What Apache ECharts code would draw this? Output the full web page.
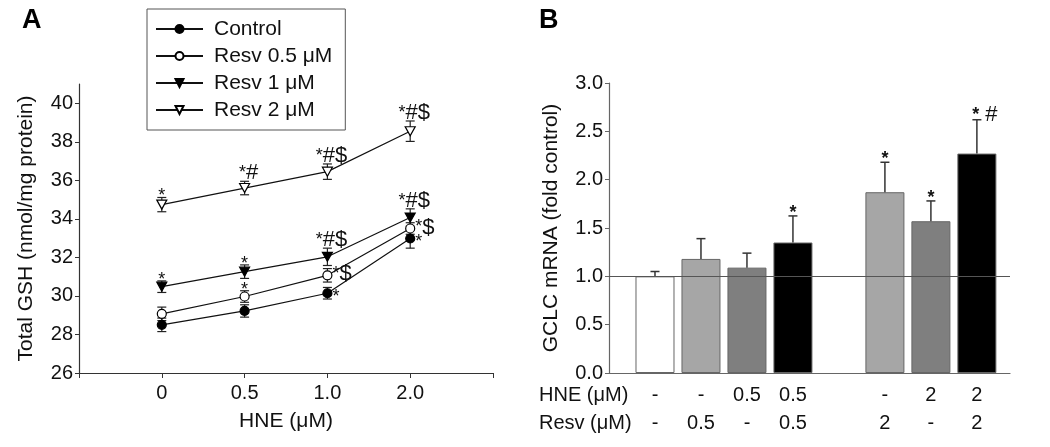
<!DOCTYPE html>
<html><head><meta charset="utf-8">
<script src="https://cdn.jsdelivr.net/npm/echarts@6/dist/echarts.min.js"></script>
<style>html,body{margin:0;padding:0;background:#fff}#c{width:1050px;height:447px}</style>
</head><body><div id="c"></div>
<script>
const FONT = '"Liberation Sans", Arial, Helvetica, sans-serif';

// ---------- Panel A data ----------
const hneTicks = ['0', '0.5', '1.0', '2.0'];
const seriesNames = ['Control', 'Resv 0.5 μM', 'Resv 1 μM', 'Resv 2 μM'];
const controlMean = [28.50, 29.22, 30.14, 32.98];
const controlErr  = [0.35, 0.32, 0.30, 0.50];
const controlSig  = ['', '', '*', '*'];
const resv05Mean  = [29.07, 29.97, 31.07, 33.50];
const resv05Err   = [0.35, 0.30, 0.35, 0.30];
const resv05Sig   = ['', '*', '*$', '*$'];
const resv1Mean   = [30.48, 31.26, 32.03, 34.07];
const resv1Err    = [0.30, 0.35, 0.45, 0.45];
const resv1Sig    = ['*', '*', '*#$', '*#$'];
const resv2Mean   = [34.74, 35.60, 36.45, 38.55];
const resv2Err    = [0.37, 0.35, 0.40, 0.53];
const resv2Sig    = ['*', '*#', '*#$', '*#$'];
const yTicksA     = [26, 28, 30, 32, 34, 36, 38, 40];

// ---------- Panel B data ----------
const barHNE  = ['-', '-', '0.5', '0.5', null, '-', '2', '2'];
const barResv = ['-', '0.5', '-', '0.5', null, '2', '-', '2'];
const barMean = [1.00, 1.18, 1.09, 1.35, null, 1.87, 1.57, 2.27];
const barErr  = [0.05, 0.21, 0.15, 0.275, null, 0.31, 0.21, 0.35];
const barSig  = ['', '', '', '*', null, '*', '*', '*#'];
const yTicksB = [0, 0.5, 1.0, 1.5, 2.0, 2.5, 3.0];

// ---------- styling / layout (not data) ----------
const sigSideA = [
  ['top', 'top', 'right', 'right'],
  ['top', 'top', 'right', 'right'],
  ['top', 'top', 'top', 'top'],
  ['top', 'top', 'top', 'top']
];
const TRI = 'path://M0,0L10,0L5,8.66Z';
const markerA = [
  { symbol: 'circle', size: 9, fill: '#000' },
  { symbol: 'circle', size: 9, fill: '#fff' },
  { symbol: TRI, size: [10, 9], fill: '#000' },
  { symbol: TRI, size: [10, 9], fill: '#fff' }
];
const groupsA = [
  { mean: controlMean, err: controlErr, sig: controlSig },
  { mean: resv05Mean, err: resv05Err, sig: resv05Sig },
  { mean: resv1Mean, err: resv1Err, sig: resv1Sig },
  { mean: resv2Mean, err: resv2Err, sig: resv2Sig }
];

function richSig(s) {
  return s.split('').map(c => c === '*' ? '{a|*}' : '{b|' + c + '}').join('');
}
const richStyles = {
  a: { fontSize: 18, fontFamily: FONT, fill: '#111', verticalAlign: 'middle' },
  b: { fontSize: 22, fontFamily: FONT, fill: '#111', verticalAlign: 'bottom' }
};

function errRendererA(gi) {
  const g = groupsA[gi];
  return function (params, api) {
    const i = params.dataIndex;
    const x = api.value(0), m = api.value(1), e = api.value(2);
    const p = api.coord([x, m]);
    const hi = api.coord([x, m + e]);
    const lo = api.coord([x, m - e]);
    const cw = 4.5;
    const st = { stroke: '#222', lineWidth: 1.2 };
    const ch = [
      { type: 'line', shape: { x1: p[0], y1: hi[1], x2: p[0], y2: lo[1] }, style: st },
      { type: 'line', shape: { x1: p[0] - cw, y1: hi[1], x2: p[0] + cw, y2: hi[1] }, style: st },
      { type: 'line', shape: { x1: p[0] - cw, y1: lo[1], x2: p[0] + cw, y2: lo[1] }, style: st }
    ];
    const s = g.sig[i];
    if (s) {
      const side = sigSideA[gi][i];
      let tx, ty, align, va;
      if (side === 'top') {
        tx = p[0] + (s.length > 1 ? 4 : 0);
        ty = hi[1] + (s.length > 1 ? 3 : 8);
        align = 'center'; va = 'bottom';
      } else {
        tx = p[0] + 5; ty = p[1] + (s.length > 1 ? -1 : 4);
        align = 'left'; va = 'middle';
      }
      ch.push({ type: 'text', x: tx, y: ty,
        style: { text: richSig(s), rich: richStyles, align: align, verticalAlign: va,
                 fontFamily: FONT, fontSize: 18, fill: '#111' } });
    }
    return { type: 'group', children: ch };
  };
}

function barFill(i) {
  const h = barHNE[i], r = barResv[i];
  if (h === '-' && r === '-') return '#ffffff';
  if (h === '-') return '#a6a6a6';
  if (r === '-') return '#7f7f7f';
  return '#000000';
}

function errRendererB(params, api) {
  const x = api.value(0), m = api.value(1), e = api.value(2), idx = api.value(3);
  const top = api.coord([x, m]);
  const hi = api.coord([x, m + e]);
  const cw = 4.5;
  const st = { stroke: '#333', lineWidth: 1.5 };
  const ch = [
    { type: 'line', shape: { x1: top[0], y1: top[1], x2: top[0], y2: hi[1] }, style: st },
    { type: 'line', shape: { x1: top[0] - cw, y1: hi[1], x2: top[0] + cw, y2: hi[1] }, style: st }
  ];
  const s = barSig[idx];
  if (s) {
    const txt = s.split('').map(c => c === '*' ? '{a|*}' : '{b| ' + c + '}').join('');
    ch.push({ type: 'text', x: top[0] + (s.length > 1 ? 8 : 0), y: hi[1] + 6,
      style: { text: txt, align: 'center', verticalAlign: 'bottom', fontFamily: FONT, fontSize: 18, fill: '#111',
        rich: {
          a: { fontSize: 18, fontFamily: FONT, fill: '#111', fontWeight: 'bold', verticalAlign: 'middle' },
          b: { fontSize: 22, fontFamily: FONT, fill: '#111', verticalAlign: 'bottom' }
        } } });
  }
  return { type: 'group', children: ch };
}

// ---------- build series ----------
const series = [];
groupsA.forEach((g, gi) => {
  const mk = markerA[gi];
  series.push({
    name: seriesNames[gi], type: 'line', xAxisIndex: 0, yAxisIndex: 0, z: 3,
    data: g.mean.map((v, i) => [i, v]),
    symbol: mk.symbol, symbolSize: mk.size, showSymbol: true,
    lineStyle: { color: '#111', width: 1.2 },
    itemStyle: { color: mk.fill, borderColor: '#000', borderWidth: 1.2 },
    emphasis: { disabled: true }
  });
  series.push({
    type: 'custom', xAxisIndex: 0, yAxisIndex: 0, z: 2,
    renderItem: errRendererA(gi),
    data: g.mean.map((v, i) => [i, v, g.err[i]]),
    silent: true
  });
});

const barData = [];
const barErrData = [];
barMean.forEach((v, i) => {
  if (v === null) return;
  barData.push({ value: [i + 1, v], itemStyle: { color: barFill(i) } });
  barErrData.push([i + 1, v, barErr[i], i]);
});
series.push({
  type: 'bar', xAxisIndex: 1, yAxisIndex: 1, barWidth: 39, z: 2,
  data: barData,
  itemStyle: { borderColor: '#666', borderWidth: 1 },
  emphasis: { disabled: true },
  markLine: { silent: true, symbol: 'none', label: { show: false },
    lineStyle: { color: '#555', width: 1.2, type: 'solid' },
    data: [{ yAxis: 1 }] }
});
series.push({
  type: 'custom', xAxisIndex: 1, yAxisIndex: 1, z: 3,
  renderItem: errRendererB, data: barErrData, silent: true
});

const labelStyle = { fontFamily: FONT, fontSize: 20, color: '#111' };
const nameStyle = { fontFamily: FONT, fontSize: 21, color: '#111' };

const option = {
  animation: false,
  backgroundColor: '#fff',
  textStyle: { fontFamily: FONT },
  grid: [
    { left: 79, right: 557, top: 84, bottom: 74 },
    { left: 609, right: 40, top: 83, bottom: 74 }
  ],
  legend: {
    data: seriesNames, orient: 'vertical', left: 147, top: 9,
    padding: [9, 13, 9, 8], itemGap: 5, itemWidth: 47, itemHeight: 10,
    borderColor: '#555', borderWidth: 1, backgroundColor: '#fff',
    textStyle: { fontFamily: FONT, fontSize: 21, color: '#111', lineHeight: 22, padding: [0, 0, 0, 6] },
    selectedMode: false
  },
  xAxis: [
    {
      type: 'value', gridIndex: 0, min: -1, max: 4, interval: 1,
      name: 'HNE (μM)', nameLocation: 'middle', nameGap: 38,
      nameTextStyle: nameStyle,
      axisLine: { show: true, onZero: false, lineStyle: { color: '#333', width: 1.2 } },
      axisTick: { show: true, length: 5, lineStyle: { color: '#333' } },
      splitLine: { show: false },
      axisLabel: Object.assign({ margin: 10, formatter: v => hneTicks[v] !== undefined ? hneTicks[v] : '' }, labelStyle)
    },
    {
      type: 'value', gridIndex: 1, min: 0, max: 8.72, interval: 1,
      axisLine: { show: true, onZero: false, lineStyle: { color: '#666', width: 1.2 } },
      axisTick: { show: false },
      splitLine: { show: false },
      axisLabel: Object.assign({
        margin: 8, lineHeight: 28,
        customValues: [1, 2, 3, 4, 6, 7, 8],
        formatter: v => {
          const i = Math.round(v) - 1;
          if (barHNE[i] == null) return '';
          return barHNE[i] + '\n' + barResv[i];
        }
      }, labelStyle)
    }
  ],
  yAxis: [
    {
      type: 'value', gridIndex: 0, min: 26, max: 41, interval: 2,
      name: 'Total GSH (nmol/mg protein)', nameLocation: 'middle', nameGap: 42,
      nameTextStyle: nameStyle,
      axisLine: { show: true, onZero: false, lineStyle: { color: '#333', width: 1.2 } },
      axisTick: { show: true, length: 4, customValues: yTicksA, lineStyle: { color: '#333' } },
      splitLine: { show: false },
      axisLabel: Object.assign({ margin: 6, customValues: yTicksA }, labelStyle)
    },
    {
      type: 'value', gridIndex: 1, min: 0, max: 3, interval: 0.5,
      name: 'GCLC mRNA (fold control)', nameLocation: 'middle', nameGap: 47,
      nameTextStyle: nameStyle,
      axisLine: { show: true, onZero: false, lineStyle: { color: '#666', width: 1.2 } },
      axisTick: { show: true, length: 4, customValues: yTicksB, lineStyle: { color: '#666' } },
      splitLine: { show: false },
      axisLabel: Object.assign({ margin: 6, customValues: yTicksB, formatter: v => v.toFixed(1) }, labelStyle)
    }
  ],
  graphic: [
    { type: 'text', left: 22, top: 7, style: { text: 'A', fontFamily: FONT, fontSize: 27, fontWeight: 'bold', fill: '#000' } },
    { type: 'text', left: 539, top: 7, style: { text: 'B', fontFamily: FONT, fontSize: 27, fontWeight: 'bold', fill: '#000' } },
    { type: 'text', left: 539, top: 385, style: { text: 'HNE (μM)', fontFamily: FONT, fontSize: 20, fill: '#111' } },
    { type: 'text', left: 539, top: 413, style: { text: 'Resv (μM)', fontFamily: FONT, fontSize: 20, fill: '#111' } }
  ],
  series: series
};

const chart = echarts.init(document.getElementById('c'), null, { renderer: 'canvas' });
chart.setOption(option);
</script>
</body></html>
